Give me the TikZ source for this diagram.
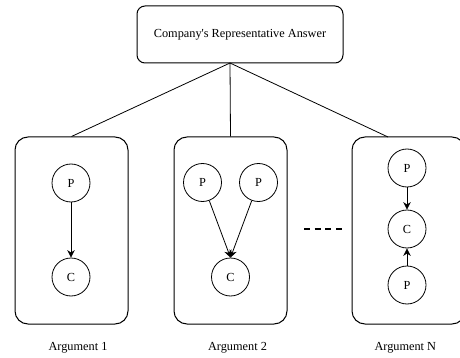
\documentclass[tikz,border=0pt]{standalone}
\usepackage{fontspec}
\setmainfont{Liberation Serif}[Ligatures=TeXOff]
\usetikzlibrary{arrows.meta,calc}
\begin{document}
\begin{tikzpicture}[x=1pt,y=-1pt,
  every node/.style={font=\fontsize{12.3}{14}\selectfont},
  topbox/.style={draw,line width=1pt,rounded corners=8pt,minimum width=206pt,minimum height=57pt,inner sep=0pt},
  argbox/.style={draw,line width=1pt,rounded corners=13pt,minimum width=113pt,minimum height=187pt,inner sep=0pt},
  circ/.style={draw,circle,line width=0.8pt,minimum size=38pt,inner sep=0pt},
  conn/.style={line width=0.8pt},
  arr/.style={line width=0.8pt,-{Stealth[length=7.5pt,width=7.5pt]}},
  lbl/.style={inner sep=0pt}]
\useasboundingbox (0,0) rectangle (460,358);
\node[topbox] (top) at (240,34.5) {Company's Representative Answer};
\coordinate (apex) at (230,63);
% boxes
\node[argbox] (b1) at (71.5,230.5) {};
\node[argbox] (b2) at (230.5,230.5) {};
\node[argbox] (bN) at (408.5,230.5) {};
\coordinate (nN) at (388,137);
\draw[conn] (apex) -- (b1.north);
\draw[conn] (apex) -- (b2.north);
\draw[conn] (apex) -- (nN);
% argument 1
\node[circ] (p1) at (71,183) {P};
\node[circ] (c1) at (71,277) {C};
\draw[arr] (p1) -- (c1);
% argument 2
\node[circ] (p21) at (202.5,182.5) {P};
\node[circ] (p22) at (258.5,182.5) {P};
\node[circ] (c2) at (230.5,277) {C};
\draw[arr] (p21) -- (c2.north);
\draw[arr] (p22) -- (c2.north);
% argument N
\node[circ] (pN1) at (407,168) {P};
\node[circ] (cN) at (407,229) {C};
\node[circ] (pN2) at (407,285) {P};
\draw[arr] (pN1) -- (cN);
\draw[arr] (pN2) -- (cN);
% dots
\coordinate (d1) at (304,229);
\coordinate (d2) at (342,229);
\draw[line width=1.5pt,dash pattern=on 6pt off 4.7pt] (d1) -- (d2);
% labels
\node[lbl] (l1) at (78,347.5) {Argument 1};
\node[lbl] (l2) at (237.5,347.5) {Argument 2};
\node[lbl] (lN) at (405.3,347.5) {Argument N};
\end{tikzpicture}
\end{document}
